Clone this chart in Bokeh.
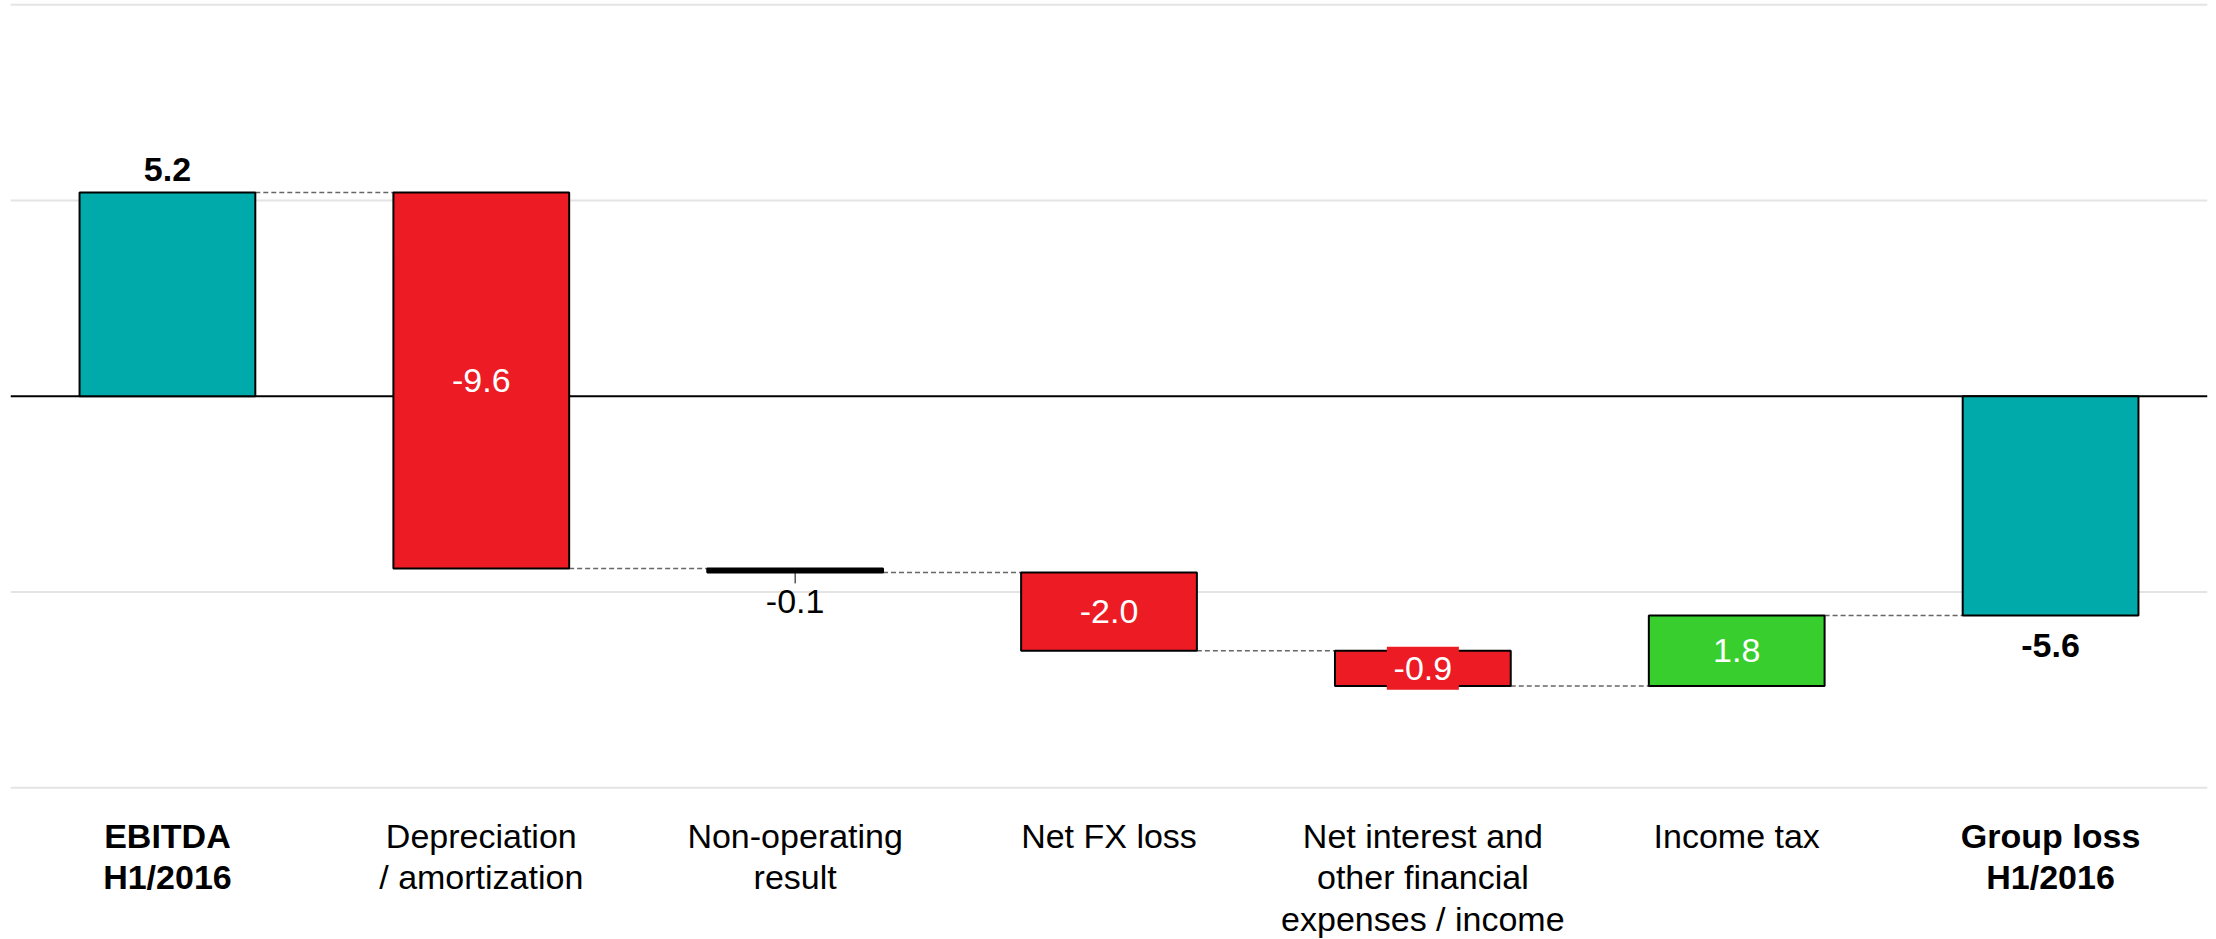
from bokeh.plotting import figure
from bokeh.models import Range1d, Span
from bokeh.core.properties import value
from bokeh.embed import file_html
from bokeh.resources import INLINE

# ---------------- data ----------------
categories = [
    "EBITDA\nH1/2016",
    "Depreciation\n/ amortization",
    "Non-operating\nresult",
    "Net FX loss",
    "Net interest and\nother financial\nexpenses / income",
    "Income tax",
    "Group loss\nH1/2016",
]
values = [5.2, -9.6, -0.1, -2.0, -0.9, 1.8, -5.6]
is_total = [True, False, False, False, False, False, True]
grid_levels = [-10, -5, 5, 10]

# ---------------- style ----------------
FONT = "Liberation Sans"
FS = "34px"
TEAL = "#00AAAA"
RED = "#ED1C24"
GREEN = "#38CF2E"
W, H = 2216, 939
Y_MAX, Y_MIN = 10.107, -13.877
PPU = H / (Y_MAX - Y_MIN)  # pixels per unit
BAR_W = 0.56


def px(d):
    return d / PPU


# ---------------- waterfall geometry ----------------
n = len(values)
xs = [i + 0.5 for i in range(n)]
bottoms, tops, ends, colors = [], [], [], []
running = 0.0
for v, t in zip(values, is_total):
    if t:
        b, tp = min(0, v), max(0, v)
        running = v
        c = TEAL
    else:
        start = running
        running = start + v
        b, tp = min(start, running), max(start, running)
        c = RED if v < 0 else GREEN
        if abs(v) * PPU < 10:
            c = "black"
    colors.append(c)
    bottoms.append(round(b, 6))
    tops.append(round(tp, 6))
    ends.append(round(running, 6))

p = figure(
    width=W, height=H,
    x_range=Range1d(0, n), y_range=Range1d(Y_MIN, Y_MAX),
    x_axis_location=None, y_axis_location=None,
    toolbar_location=None, output_backend="svg",
    min_border_left=10, min_border_right=9, min_border_top=0, min_border_bottom=0,
    outline_line_color=None, background_fill_color="white", border_fill_color="white",
)
p.xgrid.visible = False
p.ygrid.visible = False

for g in grid_levels:
    p.add_layout(Span(location=g, dimension="width", line_color="#E4E4E4",
                      line_width=2, level="underlay"))
p.add_layout(Span(location=0, dimension="width", line_color="black",
                  line_width=2, level="underlay"))

# connectors
cx0 = [xs[i] + BAR_W / 2 for i in range(n - 1)]
cx1 = [xs[i + 1] - BAR_W / 2 for i in range(n - 1)]
cy = [ends[i] for i in range(n - 1)]
p.segment(x0=cx0, x1=cx1, y0=cy, y1=cy, line_color="#666666",
          line_width=1.5, line_dash="5 3")

# bars
p.vbar(x=xs, width=BAR_W, bottom=bottoms, top=tops, fill_color=colors,
       line_color="black", line_width=2)

# value labels (text_baseline middle, positioned at cap centre)
for i, (v, t) in enumerate(zip(values, is_total)):
    txt = f"{v:.1f}"
    hpx = (tops[i] - bottoms[i]) * PPU
    common = dict(text_font=value(FONT), text_font_size=FS, text_align="center",
                  text_baseline="middle")
    mid = (tops[i] + bottoms[i]) / 2
    if t:
        if v >= 0:
            p.text(x=[xs[i]], y=[tops[i] + px(23)], text=[txt],
                   text_font_style="bold", text_color="black", **common)
        else:
            p.text(x=[xs[i]], y=[bottoms[i] - px(30)], text=[txt],
                   text_font_style="bold", text_color="black", **common)
    elif hpx < 10:
        p.segment(x0=[xs[i]], x1=[xs[i]], y0=[bottoms[i]], y1=[bottoms[i] - px(11)],
                  line_color="black", line_width=1)
        p.text(x=[xs[i]], y=[bottoms[i] - px(29)], text=[txt],
               text_color="black", **common)
    elif hpx < 40:
        p.rect(x=[xs[i]], y=[mid], width=72, height=43, width_units="screen",
               height_units="screen", fill_color=colors[i], line_color=None)
        p.text(x=[xs[i]], y=[mid], text=[txt], text_color="white", **common)
    else:
        p.text(x=[xs[i]], y=[mid], text=[txt], text_color="white", **common)

# category labels
line_gap = 41.5
for i, cat in enumerate(categories):
    bold = is_total[i]
    for j, line in enumerate(cat.split("\n")):
        p.text(x=[xs[i]], y=[Y_MAX - px(835 + j * line_gap)], text=[line],
               text_align="center", text_baseline="middle",
               text_font=value(FONT), text_font_size=FS,
               text_font_style="bold" if bold else "normal", text_color="black")

open("out.html", "w").write(file_html(p, INLINE))
